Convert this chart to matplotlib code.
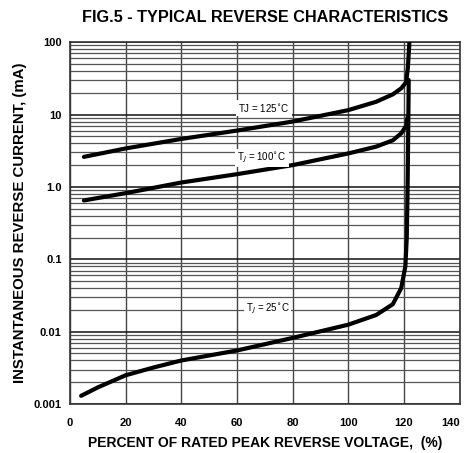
import matplotlib.pyplot as plt
from matplotlib.ticker import LogLocator, FixedLocator

# curve data (percent of rated voltage, mA)
x_125 = [5, 20, 40, 60, 80, 100, 110, 116, 119, 120.8, 121.4, 121.8, 122.1]
y_125 = [2.6, 3.4, 4.6, 6.0, 8.0, 11.5, 15.0, 19.0, 23.0, 28.0, 45.0, 80.0, 130.0]

x_100 = [5, 20, 40, 60, 80, 100, 110, 116, 119, 120.8, 121.2]
y_100 = [0.65, 0.82, 1.15, 1.5, 2.0, 2.9, 3.6, 4.4, 5.5, 7.0, 9.0]

x_25 = [4, 10, 20, 30, 40, 60, 80, 100, 110, 116, 119, 120.5, 121.0, 121.3, 121.5, 121.7]
y_25 = [0.0013, 0.0017, 0.0025, 0.0032, 0.0040, 0.0055, 0.0082, 0.0125, 0.0170, 0.024, 0.04, 0.08, 0.2, 1.0, 5.0, 30.0]

x_ticks = [0, 20, 40, 60, 80, 100, 120, 140]
y_ticks = [0.001, 0.01, 0.1, 1.0, 10, 100]
y_tick_labels = ['0.001', '0.01', '0.1', '1.0', '10', '100']

plt.rcParams['font.family'] = ['Liberation Sans', 'DejaVu Sans']

fig = plt.figure(figsize=(4.65, 4.53), dpi=100)
ax = fig.add_axes([0.1505, 0.108, 0.838, 0.799])

ax.set_yscale('log')
ax.set_xlim(0, 140)
ax.set_ylim(0.001, 100)

ax.xaxis.set_major_locator(FixedLocator(x_ticks))
ax.yaxis.set_major_locator(FixedLocator(y_ticks))
ax.yaxis.set_minor_locator(LogLocator(base=10, subs=range(2, 10)))
ax.set_xticklabels([str(v) for v in x_ticks])
ax.set_yticklabels(y_tick_labels)
ax.tick_params(which='both', length=0, labelsize=8)
ax.tick_params(axis='x', pad=10)
ax.tick_params(axis='y', pad=6)
for lab in ax.get_xticklabels() + ax.get_yticklabels():
    lab.set_fontweight('bold')
ax.get_xticklabels()[-1].set_horizontalalignment('right')
ax.yaxis.set_minor_formatter(plt.NullFormatter())

ax.grid(True, which='major', axis='y', color='#111111', lw=1.1)
ax.grid(True, which='minor', axis='y', color='#555555', lw=0.9)
ax.grid(True, which='major', axis='x', color='#444444', lw=1.0)
for s in ax.spines.values():
    s.set_color('#333333')
    s.set_linewidth(1.2)

ax.plot(x_125, y_125, color='black', lw=3.0, solid_capstyle='round', zorder=3)
ax.plot(x_100, y_100, color='black', lw=3.0, solid_capstyle='round', zorder=3)
ax.plot(x_25, y_25, color='black', lw=3.0, solid_capstyle='round', zorder=3)

box = dict(facecolor='white', edgecolor='none', pad=1.5)
ax.text(69.8, 12.2, 'TJ = 125$^{\\circ}$C', fontsize=7, ha='center', va='center', bbox=box, zorder=4)
ax.text(69, 2.5, 'T$_J$ = 100$^{\\circ}$C', fontsize=7, ha='center', va='center', bbox=box, zorder=4)
ax.text(71, 0.0205, 'T$_J$ = 25$^{\\circ}$C', fontsize=7, ha='center', va='center', bbox=box, zorder=4)

fig.text(0.57, 0.962, 'FIG.5 - TYPICAL REVERSE CHARACTERISTICS', ha='center', va='center',
         fontsize=11.7, fontweight='bold')
ax.set_xlabel('PERCENT OF RATED PEAK REVERSE VOLTAGE,  (%)', fontsize=10, fontweight='bold', labelpad=6)
ax.set_ylabel('INSTANTANEOUS REVERSE CURRENT, (mA)', fontsize=10.8, fontweight='bold', labelpad=5)

fig.savefig('out.png', dpi=100)
